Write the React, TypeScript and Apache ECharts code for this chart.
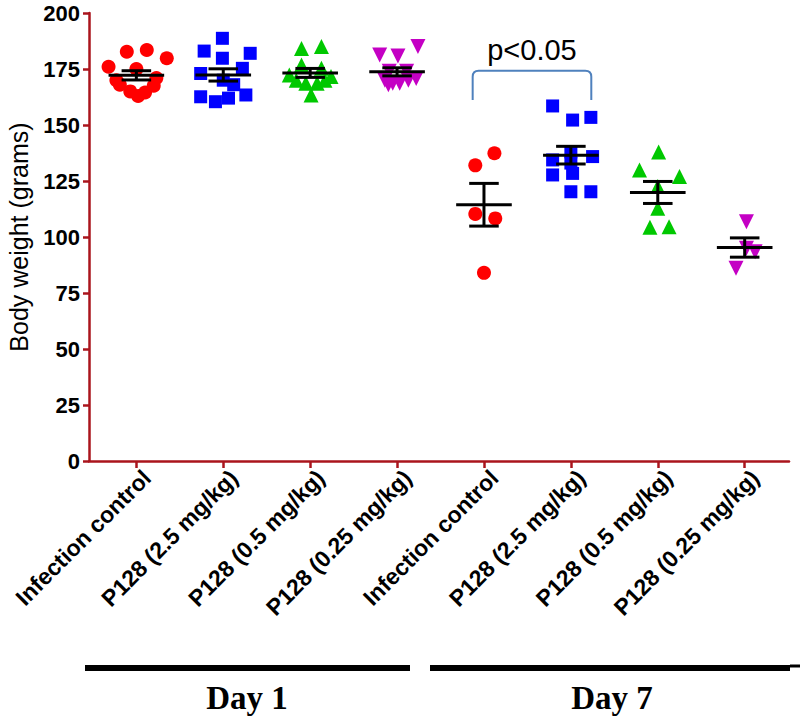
import React, { useEffect, useRef } from "react";
import * as echarts from "echarts";

// ---- data ----
const categories = [
  "Infection control",
  "P128 (2.5 mg/kg)",
  "P128 (0.5 mg/kg)",
  "P128 (0.25 mg/kg)",
  "Infection control",
  "P128 (2.5 mg/kg)",
  "P128 (0.5 mg/kg)",
  "P128 (0.25 mg/kg)",
];
const dayLabels = ["Day 1", "Day 7"];
const yTicks = { min: 0, max: 200, interval: 25 };
const yAxisTitle = "Body weight (grams)";
const pLabel = "p<0.05";

const d1ControlValues = [176, 182.7, 183.5, 179.8, 175, 170, 171, 168, 167.5, 165, 164.5, 163];
const d1ControlJitter = [-0.32, -0.11, 0.12, 0.35, 0, -0.23, 0.23, -0.19, 0.2, -0.07, 0.1, 0.02];
const d1HighValues = [188.7, 183, 182, 179.8, 175.3, 173, 170, 168, 162.6, 160.4, 162, 163.4];
const d1HighJitter = [-0.01, -0.22, 0.31, -0.01, 0.22, -0.26, 0, 0.12, -0.26, -0.09, 0.06, 0.26];
const d1MidValues = [184.2, 185, 176.8, 175.3, 172.3, 171.6, 170, 168.6, 168.6, 163.4, 170];
const d1MidJitter = [-0.1, 0.13, -0.1, 0.13, -0.24, 0.24, -0.16, -0.05, 0.08, 0.01, 0.17];
const d1LowValues = [181.3, 180.8, 185, 174, 174, 170, 168.6, 168.6, 170, 170.8, 168];
const d1LowJitter = [-0.2, 0.01, 0.24, -0.09, 0.11, -0.14, -0.05, 0.03, 0.13, 0.22, -0.1];
const d7ControlValues = [137.4, 132, 110.3, 108.3, 84];
const d7ControlJitter = [0.12, -0.1, -0.1, 0.13, 0];
const d7HighValues = [158.5, 152.2, 153.4, 134.4, 135.9, 138, 133, 127.7, 128.4, 120.2, 120.2];
const d7HighJitter = [-0.21, 0.02, 0.23, -0.21, 0.25, 0, 0, -0.21, 0.02, 0, 0.23];
const d7MidValues = [138, 129.9, 127, 122.6, 112.8, 104.3, 104.6];
const d7MidJitter = [0.01, -0.21, 0.25, 0, 0, -0.09, 0.13];
const d7LowValues = [106.8, 95, 93.4, 86];
const d7LowJitter = [0.02, 0.02, 0.12, -0.1];

// significance bracket between Day 7 control (5) and Day 7 2.5 mg/kg (6)
const bracketGroups = [5, 6];

// ---- styling ----
const RED = "#ff0000";
const BLUE = "#0000ff";
const GREEN = "#00c800";
const MAGENTA = "#c400c4";
const AXIS = "#aa141c";
const SANS = "'Liberation Sans', Arial, sans-serif";
const SERIF = "'Liberation Serif', 'Times New Roman', serif";

type Group = { values: number[]; jitter: number[]; color: string; symbol: string; size: number; rotate: number };
const groups: Group[] = [
  { values: d1ControlValues, jitter: d1ControlJitter, color: RED, symbol: "circle", size: 14, rotate: 0 },
  { values: d1HighValues, jitter: d1HighJitter, color: BLUE, symbol: "rect", size: 13, rotate: 0 },
  { values: d1MidValues, jitter: d1MidJitter, color: GREEN, symbol: "triangle", size: 15, rotate: 0 },
  { values: d1LowValues, jitter: d1LowJitter, color: MAGENTA, symbol: "triangle", size: 15, rotate: 180 },
  { values: d7ControlValues, jitter: d7ControlJitter, color: RED, symbol: "circle", size: 14, rotate: 0 },
  { values: d7HighValues, jitter: d7HighJitter, color: BLUE, symbol: "rect", size: 13, rotate: 0 },
  { values: d7MidValues, jitter: d7MidJitter, color: GREEN, symbol: "triangle", size: 15, rotate: 0 },
  { values: d7LowValues, jitter: d7LowJitter, color: MAGENTA, symbol: "triangle", size: 15, rotate: 180 },
];

function meanSem(v: number[]) {
  const n = v.length;
  const m = v.reduce((a, b) => a + b, 0) / n;
  const sd = Math.sqrt(v.reduce((a, b) => a + (b - m) * (b - m), 0) / (n - 1));
  return [m, sd / Math.sqrt(n)];
}

export default function App() {
  const ref = useRef<HTMLDivElement>(null);
  useEffect(() => {
    if (!ref.current) return;
    const chart = echarts.init(ref.current, null, { renderer: "svg" });
    const positions = categories.map((_, i) => i + 1);

    const scatterSeries = groups.map((g, gi) => ({
      type: "scatter",
      symbol: g.symbol,
      symbolSize: g.size,
      symbolRotate: g.rotate,
      itemStyle: { color: g.color, opacity: 1 },
      z: 2,
      data: g.values.map((v, i) => [gi + 1 + g.jitter[i], v]),
    }));

    const errData = groups.map((g, gi) => {
      const [m, s] = meanSem(g.values);
      return [gi + 1, m, s];
    });

    const option: any = {
      animation: false,
      grid: { left: 89, right: 11, top: 13, bottom: 255, containLabel: false, outerBoundsMode: "none" },
      xAxis: {
        type: "value",
        min: 0.455,
        max: 8.51,
        splitLine: { show: false },
        axisLine: { show: true, onZero: false, lineStyle: { color: AXIS, width: 2.5 } },
        axisTick: { show: true, customValues: positions, length: 7, lineStyle: { color: AXIS, width: 2.5 } },
        axisLabel: {
          customValues: positions.map((p) => p + 0.12),
          formatter: (v: number) => categories[Math.round(v) - 1] ?? "",
          rotate: 45,
          margin: 13,
          color: "#000",
          fontSize: 23,
          fontWeight: "bold",
          fontFamily: SANS,
        },
      },
      yAxis: {
        type: "value",
        min: yTicks.min,
        max: yTicks.max,
        interval: yTicks.interval,
        splitLine: { show: false },
        axisLine: { show: true, lineStyle: { color: AXIS, width: 2.5 } },
        axisTick: { show: true, length: 6, lineStyle: { color: AXIS, width: 2.5 } },
        axisLabel: { color: "#000", fontSize: 22, fontWeight: "bold", fontFamily: SANS, margin: 9 },
        name: yAxisTitle,
        nameLocation: "middle",
        nameGap: 58,
        nameTextStyle: { color: "#000", fontSize: 25, fontFamily: SANS },
      },
      series: [
        ...scatterSeries,
        {
          type: "custom",
          z: 5,
          data: errData,
          renderItem: (params: any, api: any) => {
            const x = api.value(0);
            const m = api.value(1);
            const s = api.value(2);
            const c = (a: number, b: number) => api.coord([a, b]);
            const line = (p1: number[], p2: number[]) => ({
              type: "line",
              shape: { x1: p1[0], y1: p1[1], x2: p2[0], y2: p2[1] },
              style: { stroke: "#000", lineWidth: 3 },
            });
            return {
              type: "group",
              children: [
                line(c(x - 0.32, m), c(x + 0.32, m)),
                line(c(x, m - s), c(x, m + s)),
                line(c(x - 0.17, m + s), c(x + 0.17, m + s)),
                line(c(x - 0.17, m - s), c(x + 0.17, m - s)),
              ],
            };
          },
        },
        {
          type: "custom",
          z: 6,
          data: [[bracketGroups[0] - 0.13, bracketGroups[1] + 0.235, 174.2, 161.2]],
          renderItem: (params: any, api: any) => {
            const a = api.coord([api.value(0), api.value(2)]);
            const b = api.coord([api.value(1), api.value(3)]);
            const x1 = a[0], x2 = b[0], yt = a[1], yb = b[1];
            const r = 6;
            const d = `M${x1},${yb} L${x1},${yt + r} Q${x1},${yt} ${x1 + r},${yt} L${x2 - r},${yt} Q${x2},${yt} ${x2},${yt + r} L${x2},${yb}`;
            return {
              type: "group",
              children: [
                { type: "path", shape: { pathData: d }, style: { stroke: "#4f81bd", lineWidth: 2, fill: "none" } },
                {
                  type: "text",
                  style: {
                    x: (x1 + x2) / 2,
                    y: yt - 6,
                    text: pLabel,
                    align: "center",
                    verticalAlign: "bottom",
                    fontSize: 29,
                    fontFamily: SANS,
                    fill: "#000",
                  },
                },
              ],
            };
          },
        },
      ],
      graphic: [
        { type: "line", shape: { x1: 85, y1: 668, x2: 410, y2: 668 }, style: { stroke: "#000", lineWidth: 6 } },
        { type: "line", shape: { x1: 430, y1: 668, x2: 790, y2: 668 }, style: { stroke: "#000", lineWidth: 6 } },
        { type: "line", shape: { x1: 790, y1: 666, x2: 800, y2: 666 }, style: { stroke: "#000", lineWidth: 3 } },
        {
          type: "text",
          x: 247,
          y: 698,
          style: { text: dayLabels[0], fontSize: 33, fontWeight: "bold", fontFamily: SERIF, fill: "#000", align: "center", verticalAlign: "middle" },
        },
        {
          type: "text",
          x: 612,
          y: 698,
          style: { text: dayLabels[1], fontSize: 33, fontWeight: "bold", fontFamily: SERIF, fill: "#000", align: "center", verticalAlign: "middle" },
        },
      ],
    };
    chart.setOption(option);
    return () => chart.dispose();
  }, []);
  return <div ref={ref} style={{ position: "fixed", left: 0, top: 0, width: 800, height: 716, background: "#fff" }} />;
}
